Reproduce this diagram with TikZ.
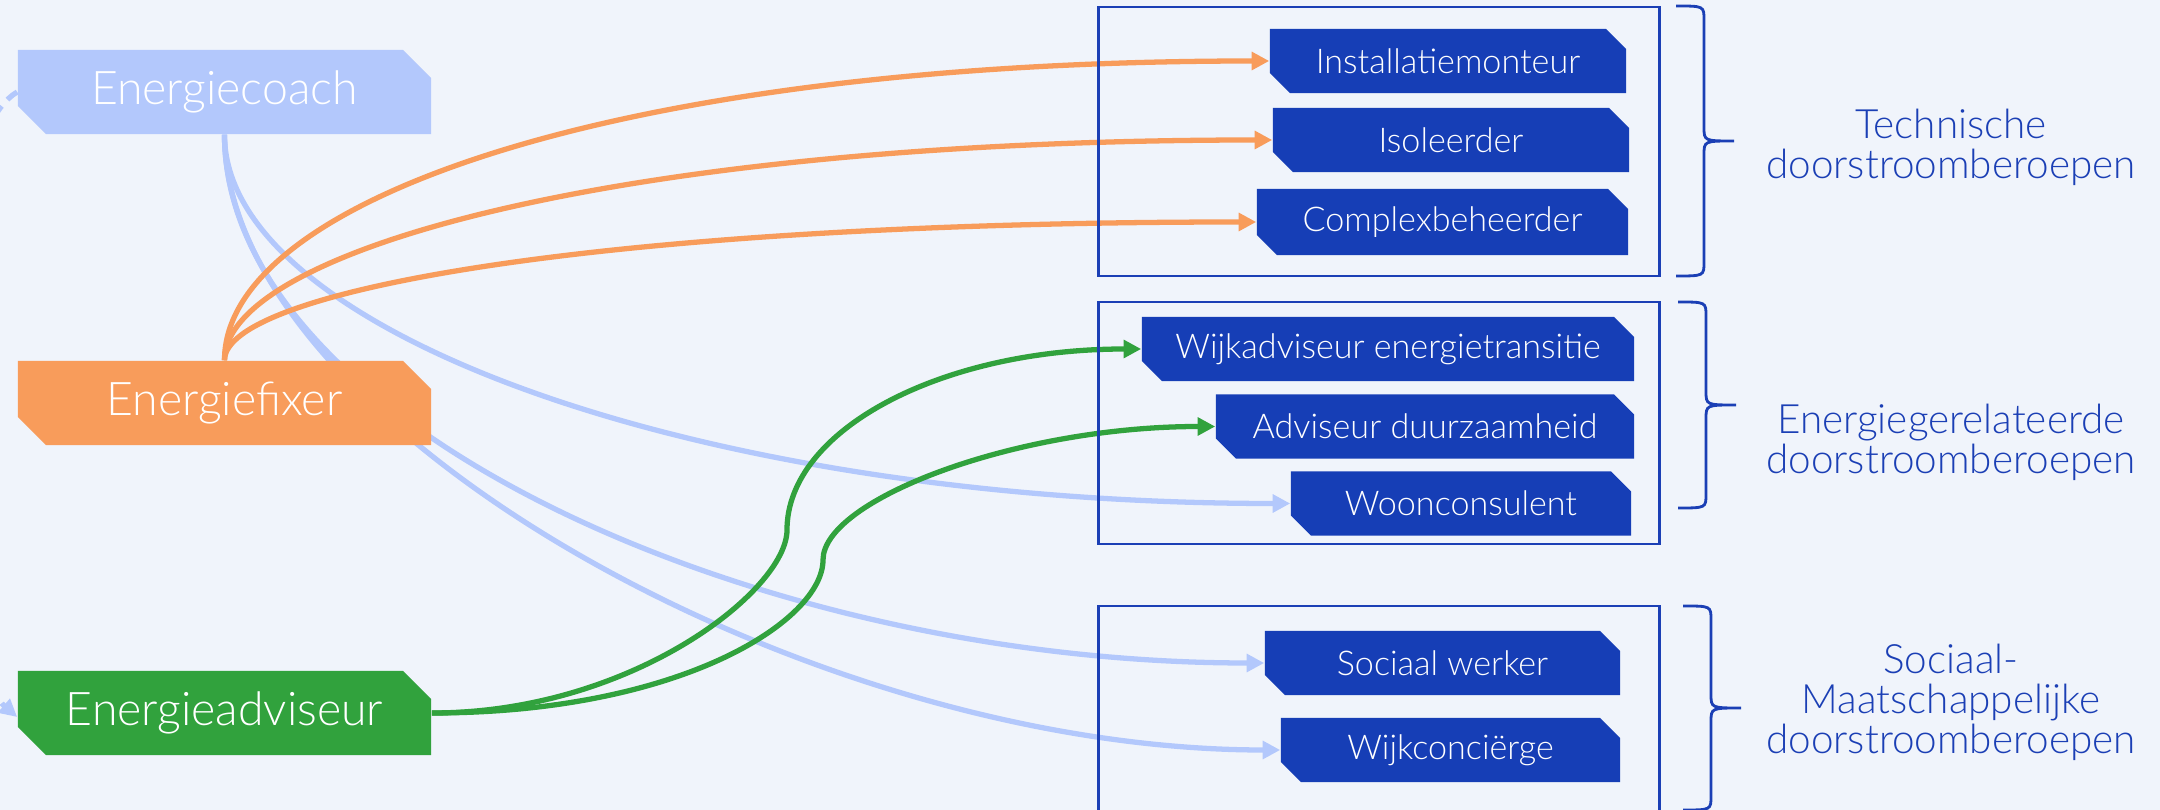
\documentclass[tikz,border=0pt]{standalone}
\usepackage{fontspec}
\setmainfont{Lato Light}
\usetikzlibrary{shapes.misc, arrows.meta, backgrounds}

\definecolor{bgcol}{HTML}{F0F4FB}
\definecolor{coachcol}{HTML}{B3C8FC}
\definecolor{fixercol}{HTML}{F89C5B}
\definecolor{advcol}{HTML}{31A23D}
\definecolor{rolecol}{HTML}{163EB6}
\definecolor{framecol}{HTML}{1B3FB5}

\tikzset{
  mainrole/.style={chamfered rectangle, chamfered rectangle corners={north east, south west}, chamfered rectangle xsep=0.14cm, chamfered rectangle ysep=0.14cm, minimum width=4.13cm, minimum height=0.84cm, inner sep=0pt, text=white, font=\fontsize{13.2}{15}\selectfont},
  subrole/.style={chamfered rectangle, chamfered rectangle corners={north east, south west}, chamfered rectangle xsep=0.1cm, chamfered rectangle ysep=0.1cm, fill=rolecol, minimum height=0.64cm, inner sep=0pt, text=white, font=\fontsize{9.7}{11}\selectfont},
  groupbox/.style={draw=framecol, line width=0.8pt, inner sep=0pt},
  grouplabel/.style={text=framecol, align=center, font=\fontsize{11.5}{11.4}\selectfont},
  bracestyle/.style={draw=framecol, line width=0.8pt},
  link/.style={line width=1.5pt, -{Triangle[length=5pt,width=5pt]}}
}

\newcommand{\groupbrace}[3]{% left x, top y, bottom y
  \pgfmathsetmacro{\bmid}{(#2+#3)/2}
  \draw[bracestyle] (#1,#2) .. controls ({#1+28},#2) .. ({#1+28},{#2+14})
    -- ({#1+28},{\bmid-14}) .. controls ({#1+28},\bmid) .. ({#1+58},\bmid)
    .. controls ({#1+28},\bmid) .. ({#1+28},{\bmid+14})
    -- ({#1+28},{#3-14}) .. controls ({#1+28},#3) .. (#1,#3);
}

\begin{document}
\begin{tikzpicture}[x=0.01cm, y=-0.01cm]
    \useasboundingbox (0,0) rectangle (2160,810);

    % left roles
    \node[mainrole, fill=coachcol] (coach) at (224.5,92) {Energiecoach};
    \node[mainrole, fill=fixercol] (fixer) at (224.5,403) {Energiefixer};
    \node[mainrole, fill=advcol] (adv) at (224.5,713) {Energieadviseur};

    % technische doorstroomberoepen
    \node[groupbox, minimum width=5.6cm, minimum height=2.69cm] (tech) at (1379,141.5) {};
    \node[subrole, minimum width=3.56cm] (inst) at (1448,61) {Installatiemonteur};
    \node[subrole, minimum width=3.56cm] (iso) at (1451,140) {Isoleerder};
    \node[subrole, minimum width=3.71cm, minimum height=0.66cm] (comp) at (1442.5,222) {Complexbeheerder};

    % energiegerelateerde doorstroomberoepen
    \node[groupbox, minimum width=5.6cm, minimum height=2.42cm] (energy) at (1379,423) {};
    \node[subrole, minimum width=4.92cm] (wijka) at (1388,349) {Wijkadviseur energietransitie};
    \node[subrole, minimum width=4.18cm] (advd) at (1425,426.5) {Adviseur duurzaamheid};
    \node[subrole, minimum width=3.40cm] (woon) at (1461,503.5) {Woonconsulent};

    % sociaal-maatschappelijke doorstroomberoepen
    \node[groupbox, minimum width=5.6cm, minimum height=2.24cm] (social) at (1379,718) {};
    \node[subrole, minimum width=3.55cm] (soc) at (1442.5,663) {Sociaal werker};
    \node[subrole, minimum width=3.39cm] (wijkc) at (1450.5,750) {Wijkconciërge};

    % braces and labels
    \groupbrace{1676}{6}{276}
    \groupbrace{1678}{302}{508}
    \groupbrace{1683}{606}{810}
    \node[grouplabel] (techlbl) at (1951,147) {Technische\\doorstroomberoepen};
    \node[grouplabel] (energylbl) at (1951,442) {Energiegerelateerde\\doorstroomberoepen};
    \node[grouplabel] (sociallbl) at (1951,702) {Sociaal-\\Maatschappelijke\\doorstroomberoepen};

    \coordinate (g1) at (787,530);
    \coordinate (g2) at (823,560);

    \begin{scope}[on background layer]
        \fill[bgcol] (0,0) rectangle (2160,810);
        % energiecoach
        \draw[link, coachcol] (coach.south) .. controls +(0,196) and +(-591,0) .. (woon.west);
        \draw[link, coachcol] (coach.south) .. controls +(0,286) and +(-515,0) .. (soc.west);
        \draw[link, coachcol] (coach.south) .. controls +(0,286) and +(-481,0) .. (wijkc.west);
        \draw[link, coachcol, dash pattern=on 3.5pt off 2.5pt] (coach.west) .. controls +(-98,58) and +(-70,-60) .. ([yshift=-0.04cm]adv.west);
        % energiefixer
        \draw[link, fixercol] (fixer.north) .. controls +(0,-160) and +(-650,0) .. (inst.west);
        \draw[link, fixercol] (fixer.north) .. controls +(0,-110) and +(-650,0) .. (iso.west);
        \draw[link, fixercol] (fixer.north) .. controls +(0,-70) and +(-650,0) .. (comp.west);
        % energieadviseur
        \draw[link, advcol] (adv.east) .. controls +(200,0) and +(0,60) .. (g1) .. controls +(0,-100) and +(-200,0) .. (wijka.west);
        \draw[link, advcol] (adv.east) .. controls +(250,0) and +(0,60) .. (g2) .. controls +(0,-60) and +(-200,0) .. (advd.west);
    \end{scope}
\end{tikzpicture}
\end{document}
